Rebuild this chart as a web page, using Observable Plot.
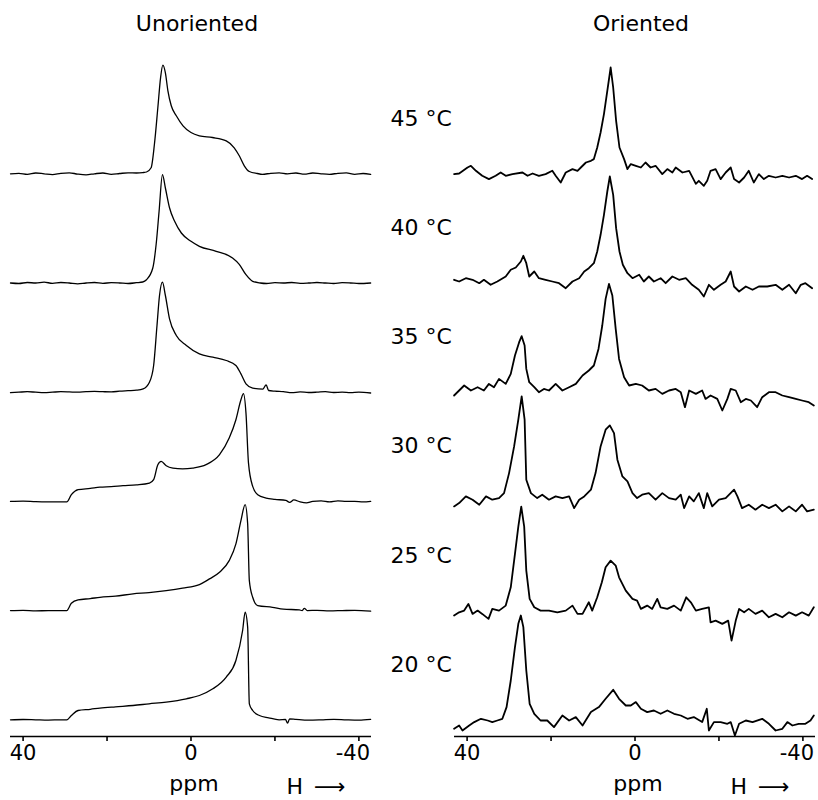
<!DOCTYPE html>
<html><head><meta charset="utf-8">
<script src="https://cdn.jsdelivr.net/npm/d3@7"></script>
<script src="https://cdn.jsdelivr.net/npm/@observablehq/plot@0.6"></script>
<style>body{margin:0;background:#fff}</style>
</head><body><div id="chart"></div>
<script>
const panels = ["Unoriented", "Oriented"];
const temperatures = [45, 40, 35, 30, 25, 20];
const tickValues = [40, 20, 0, -20, -40];
const tickLabels = ["40", "", "0", "", "-40"];

// [ppm, intensity] pairs
const unoriented45 = [[43,0],[41,0.5],[39,-0.5],[37,0.8],[35,0],[33,-0.8],[31,0.5],[29,1],[27,-0.3],[25,-1],[23,0],[21,0.8],[19,-0.5],[17,0.3],[15,1],[13,0.8],[11.5,1.2],[10.6,1.8],[9.5,6],[8.7,30],[7.9,66],[7.25,96],[6.7,108.7],[6.1,101],[5.5,83],[4.7,68],[3.5,58],[1.9,48],[0,41.3],[-2,38],[-5.1,36.3],[-8.4,33],[-10.3,26],[-11.5,18],[-12.7,8],[-13.9,2.3],[-15.8,0.3],[-17,-0.5],[-19,0.5],[-21,1],[-23,0],[-25,0.8],[-27,-0.3],[-29,0.8],[-31,0],[-33,-0.5],[-35,0.5],[-37,1],[-39,-0.5],[-41,0.3],[-42.8,-0.5]];
const unoriented40 = [[43,0],[41,-0.5],[39,0.5],[37,0],[35,0.8],[33,-0.3],[31,0.5],[29,0],[27,-0.8],[25,0],[23,0.5],[21,-0.3],[19,0.3],[17,0],[15,-0.5],[13,0.3],[11.5,1],[10.6,3.3],[9.1,15],[8.3,38.7],[7.6,71.7],[6.8,108.3],[6.1,95],[5.1,75],[3.9,61.7],[2.3,50],[0,41.7],[-2,36.7],[-6,31.7],[-9.9,25],[-11.5,18.7],[-13.1,8.3],[-14.7,1.7],[-16.5,0],[-18,-0.5],[-20,0.3],[-22,0],[-24,0.5],[-26,-0.3],[-28,0],[-30,0.5],[-32,0],[-34,-0.5],[-36,0.3],[-38,0],[-40,-0.5],[-42.8,0]];
const unoriented35 = [[43,-0.5],[41,0],[39,0.5],[37,0],[35,-0.5],[33,0],[31,0.5],[29,0.3],[27,0],[25,0.5],[23,0.8],[21,0.5],[19,0.3],[17,1],[15,1.5],[13,2],[11.4,3.3],[9.9,10],[8.9,26.7],[8.1,66.7],[7.5,96.7],[6.8,110],[6.1,96.7],[5.1,73],[3.5,56.7],[1.1,46.7],[-2,38.3],[-5.2,35],[-8.4,31.7],[-10.7,26.7],[-11.9,18.3],[-13.1,8.3],[-14.7,4],[-17.1,3],[-17.9,7.3],[-18.5,1.7],[-20,1],[-22,0.5],[-24,-0.5],[-26,0.3],[-28,-0.3],[-30,0],[-32,0.5],[-34,-0.3],[-36,0],[-38,-0.5],[-40,0],[-42.8,-0.8]];
const unoriented30 = [[43,0],[40,0.3],[37,-0.3],[34,-0.5],[31,-0.5],[29.6,-0.5],[28.5,6.7],[26.9,11.7],[24,13],[21.7,14.3],[19,14.8],[16.2,15.7],[13,16.5],[9.9,18.3],[8.9,21.7],[7.9,36.7],[7.1,40],[5.9,35.7],[4.3,33.3],[2,32.5],[-0.4,33.3],[-3.6,36.7],[-6.8,46.7],[-9.1,63.3],[-10.7,81.7],[-11.9,101.7],[-12.5,107.7],[-13.1,88.3],[-13.7,38.3],[-14.7,15],[-15.9,6.7],[-17.9,3.3],[-20,2],[-22.6,1],[-23.5,-1],[-24.5,1.5],[-26,-0.5],[-27.5,-1.5],[-29,0],[-31,0.5],[-33,-0.5],[-35,0.5],[-37,0],[-39,0],[-41,-0.5],[-42.8,0]];
const unoriented25 = [[43,0],[40,0.3],[37,-0.3],[34,0],[31,0],[29.6,0],[28.5,7.3],[26.9,10.7],[24,12],[21.7,13.3],[18,14.5],[13.8,16.7],[10,18],[5.9,20],[2,22.5],[-2,26],[-4.4,31.7],[-6.8,38.3],[-9.1,50],[-10.7,66.7],[-11.9,90],[-12.9,106],[-13.5,86.7],[-13.9,30],[-14.7,13.3],[-15.9,5],[-19.4,3.3],[-22,1.5],[-25.8,0.7],[-26.5,0],[-27,2.3],[-27.7,0],[-30,0.3],[-33,-0.3],[-36,0],[-39,0.3],[-42.8,-0.5]];
const unoriented20 = [[43,0],[40,0.3],[37,0],[34,-0.3],[31,0],[29.6,0],[28.5,4.3],[26.9,9.3],[24,10.5],[21.7,11.7],[18,13],[13.8,14.3],[10,16],[5.9,17.7],[1.1,21],[-2,24.3],[-5.2,31],[-8.4,42.7],[-10.7,59.3],[-12.3,89.3],[-12.9,107.7],[-13.5,92.7],[-13.9,16],[-14.7,9.3],[-16.3,4.3],[-18.5,2],[-21,0],[-22.5,0.3],[-23,-3.3],[-23.5,1],[-25,0.5],[-28,-0.3],[-31,0],[-34,0.5],[-37,0],[-40,-0.3],[-42.8,0.5]];

const oriented45 = [[43.1,-0.3],[41.9,0.3],[39.9,6.3],[39.1,8],[37.9,3],[36.4,-2],[34.8,-5.3],[33.2,-2],[32,1.3],[30.8,-2],[29.2,-0.3],[26.8,1.3],[25.6,-2],[24.4,0.3],[22.9,-2],[21.3,-0.3],[19.7,3],[18.9,-2],[17.7,-8.7],[16.5,1.3],[14.9,4.7],[13.7,3],[12.9,6.3],[11.7,11.3],[10.5,13],[9.8,14.7],[9,26.3],[8.2,41.3],[7.4,59.7],[6.6,83],[5.8,106.3],[5.2,86.3],[4.5,53],[3.7,26.3],[2.6,14.7],[1.8,4.7],[1,9.7],[-0.2,8],[-1.4,6.3],[-2.5,11.3],[-3.7,6.3],[-4.9,8],[-6.5,-0.3],[-7.7,4.7],[-8.9,1.3],[-9.7,6.3],[-11.3,1.3],[-12.9,3],[-14.5,-10],[-15.2,-7],[-16.4,-12],[-17.2,-7],[-18,3],[-19.2,4.7],[-20.4,-5.3],[-21.6,1.3],[-22.8,6.3],[-23.6,-5.3],[-24.8,-8.7],[-26,-3.7],[-27.1,3],[-28.3,-8.7],[-29.5,-0.3],[-30.7,-5.3],[-31.9,-2],[-33.5,-3.7],[-35.1,-2],[-36.7,-3.7],[-38.3,-2],[-39.8,-5.3],[-41,-2],[-42.2,-5.3]];
const oriented40 = [[43.1,3.2],[41.9,1.5],[40.3,4.8],[38.7,3.2],[37.1,-0.2],[36,3.2],[34.4,-1.8],[32.8,1.5],[30.8,6.5],[29.6,13.2],[28.4,15.5],[27.2,21.5],[26.6,27.2],[25.9,19.8],[25.2,6.5],[24,11.5],[22.9,4.8],[21.3,3.2],[19.7,1.5],[18.1,-0.2],[16.5,-5.2],[14.9,1.5],[13.3,4.8],[12.1,11.5],[11,14.8],[9.8,19.8],[9,31.5],[8.2,48.2],[7.4,68.2],[6.6,91.5],[6,106.5],[5.2,88.2],[4.5,54.8],[3.7,31.5],[2.9,18.2],[1.8,9.8],[0.6,4.8],[-1,8.2],[-2.1,1.5],[-3.3,6.5],[-4.5,1.5],[-6.1,4.8],[-7.3,-0.2],[-8.9,6.5],[-10.5,3.2],[-12.1,4.8],[-13.6,-1.8],[-15.2,-6.8],[-16.4,-13.5],[-17.6,-1.8],[-18.8,-6.8],[-20.4,-1.8],[-21.6,1.5],[-22.8,11.5],[-23.6,-3.5],[-24.8,-8.5],[-26.4,-3.5],[-28,-6.8],[-29.5,-3.5],[-31.5,-3.5],[-33.5,-1.8],[-35.1,-6.8],[-36.7,-1.8],[-38.3,-10.2],[-39.5,-1.8],[-40.6,-0.2],[-42.2,-5.2]];
const oriented35 = [[43.1,-3.3],[41.9,1.7],[40.7,6.7],[39.1,1.7],[37.5,5],[36,1.7],[34.8,8.3],[33.6,5],[32.4,13.3],[30.8,8.3],[29.6,18.3],[28.6,36.7],[27.6,50],[27,56],[26.3,46.7],[25.9,23.3],[25.2,10],[24,5],[22.9,0],[21.7,3.3],[20.5,1.7],[18.9,8.3],[17.3,1.7],[15.7,5],[14.1,8.3],[12.5,16.7],[11,21.7],[9.8,26.7],[8.7,43.3],[7.8,66.7],[7,93.3],[6.2,108.3],[5.4,96.7],[4.6,63.3],[3.8,33.3],[2.6,15],[1.4,6.7],[-0.2,8.3],[-1.7,6.7],[-3.3,1.7],[-4.9,3.3],[-6.5,-1.7],[-8.1,1.7],[-9.7,3.3],[-10.9,0],[-11.9,-15],[-12.9,1.7],[-14.5,-1.7],[-16,1.7],[-16.8,-6.7],[-18,-3.3],[-19.6,-6.7],[-20.8,-18.3],[-22,-6.7],[-22.8,3.3],[-24,1.7],[-25.2,-10],[-26.4,-6.7],[-27.6,-8.3],[-29.1,-15],[-30.3,-5],[-31.9,0],[-33.5,0],[-35.1,-3.3],[-36.7,-5],[-38.3,-6.7],[-39.8,-8.3],[-41.4,-10],[-42.6,-13.3]];
const oriented30 = [[43.1,-5],[41.9,-1.7],[40.3,5],[38.7,1.7],[37.1,-3.3],[35.5,5],[34,1.7],[32.4,3.3],[31.2,8.3],[30,28.3],[28.8,55],[27.8,81.7],[27,105],[26.3,81.7],[25.9,21.7],[24.8,8.3],[23.3,3.3],[22.1,6.7],[20.5,1.7],[18.9,5],[17.3,3.3],[15.7,5],[14.5,-6.7],[13.3,1.7],[12.1,5],[10.5,11.7],[9.4,28.3],[8.2,55],[7,71.7],[6,76],[5,68.3],[4.2,41.7],[3,25],[1.8,20],[0.6,8.3],[-0.5,3.3],[-1.7,6.7],[-3.3,8.3],[-4.9,1.7],[-6.5,8.3],[-8.1,3.3],[-9.7,1.7],[-10.9,6.7],[-11.7,-6.7],[-12.9,5],[-14,0],[-15.2,8.3],[-16.4,-6.7],[-17.2,8.3],[-18.4,-5],[-20,1.7],[-21.6,3.3],[-23.6,11.7],[-24.4,5],[-25.5,-6.7],[-27.1,-3.3],[-28.7,-8.3],[-30.3,-3.3],[-31.9,-6.7],[-33.5,-3.3],[-35.1,-10],[-36.7,-5],[-38.3,-10],[-39.8,-3.3],[-41,-10],[-42.6,-8.3]];
const oriented25 = [[43.1,-5],[41.9,-1.7],[40.7,0],[39.7,6.7],[38.7,-3.3],[37.5,0],[36.4,-3.3],[34.9,-8.3],[34,1.7],[32.4,0],[30.8,5],[29.6,23.3],[28.6,56.7],[27.8,84],[27.1,104],[26.4,84],[25.9,40],[25.1,11.7],[24,3.3],[22.5,0],[20.5,0],[18.5,-1.7],[16.5,0],[14.9,5],[13.7,-3.3],[12.5,-3.3],[11,8.3],[10.2,0],[9,13.3],[7.9,28.3],[7,43.3],[5.8,50],[4.6,45],[3.8,33.3],[2.2,20],[0.6,11.7],[-0.5,10],[-1.4,1.7],[-2.9,5],[-4.1,1.7],[-5.3,11.7],[-6.1,3.3],[-7.7,1.7],[-9.3,5],[-10.9,0],[-12.2,13.3],[-13.3,8.3],[-14.5,0],[-16,1.7],[-17.6,3.3],[-18,-11.7],[-19.2,-10],[-20.8,-13.3],[-22.2,-10],[-23,-30],[-24,-10],[-24.8,1.7],[-26,-1.7],[-27.1,1.7],[-28.7,-3.3],[-30.3,0],[-31.9,-6.7],[-33.5,-3.3],[-35.1,-6.7],[-36.7,-1.7],[-38.3,-5],[-39.8,-1.7],[-41.4,-5],[-42.6,3.3]];
const oriented20 = [[43.1,-9],[41.9,-5.7],[41.1,-10.7],[39.5,-5.7],[38.3,-2.3],[36.7,1],[35.1,-0.7],[34,-2.3],[32.8,-0.7],[31.6,1],[30.6,12.7],[29.6,39.3],[28.6,72.7],[27.8,96],[27.2,104.3],[26.6,92.7],[25.9,49.3],[25.1,16],[24,6],[22.5,-0.7],[20.9,-0.7],[19.3,-7.3],[17.3,4.3],[15.7,-0.7],[14.1,2.7],[12.5,-5.7],[10.5,7.7],[8.6,12.7],[7,21],[5.2,30],[3.8,21],[2.2,14.3],[1,14.3],[-0.2,17.7],[-1.4,11],[-2.9,7.7],[-4.5,9.3],[-6.1,6],[-7.7,9.3],[-9.3,6],[-10.9,4.3],[-12.5,1],[-14,2.7],[-16,-2.3],[-17.1,11],[-17.6,-10.7],[-18.8,-2.3],[-20.4,-2.3],[-22,-4],[-22.8,-2.3],[-23.8,-15.7],[-24.8,-4],[-26.4,-0.7],[-28,-2.3],[-30.3,1],[-31.9,-4],[-33.5,-10.7],[-35.1,-9],[-36.3,-2.3],[-37.5,-5.7],[-39,-4],[-40.6,-4],[-41.8,-0.7],[-42.6,4.3]];

const unoriented = [unoriented45, unoriented40, unoriented35, unoriented30, unoriented25, unoriented20];
const oriented = [oriented45, oriented40, oriented35, oriented30, oriented25, oriented20];

const stackStep = 109.2, stackBase = 16.7;
const offsetOf = i => stackBase + (temperatures.length - 1 - i) * stackStep;
const rows = [];
panels.forEach((p, pi) => (pi ? oriented : unoriented).forEach((trace, i) => {
  trace.forEach(([ppm, v]) => rows.push({panel: p, temp: temperatures[i], ppm, y: offsetOf(i) + v}));
}));
const tempRows = temperatures.map((t, i) => ({panel: "Oriented", label: `${t} °C`, y: offsetOf(i) + 55}));
const labelOf = new Map(tickValues.map((v, i) => [v, tickLabels[i]]));
const lastTick = tickValues[tickValues.length - 1];

const chart = Plot.plot({
  width: 818, height: 800,
  marginLeft: 10, marginRight: 3, marginTop: 50, marginBottom: 64,
  style: {fontFamily: "DejaVu Sans", background: "#fff", color: "#000", overflow: "visible"},
  fx: {domain: panels, paddingInner: 0.187, paddingOuter: 0, axis: null, round: false},
  x: {domain: [43, -43]},
  y: {domain: [0, 686], axis: null},
  marks: [
    Plot.ruleY([0], {stroke: "#000", strokeWidth: 1.6}),
    Plot.axisX({ticks: tickValues, tickFormat: d => d === lastTick ? "" : labelOf.get(d), tickSize: 5, tickPadding: 4, fontSize: 21, label: null, stroke: "#000", strokeWidth: 1.6}),
    Plot.axisX({ticks: [lastTick], tickFormat: d => labelOf.get(d), tickSize: 0, tickPadding: 9, fontSize: 21, label: null, dx: -6}),
    Plot.line(rows.filter(d => d.panel === "Unoriented"), {x: "ppm", y: "y", z: "temp", fx: "panel", stroke: "#000", strokeWidth: 1.3, curve: "monotone-x"}),
    Plot.line(rows.filter(d => d.panel === "Oriented"), {x: "ppm", y: "y", z: "temp", fx: "panel", stroke: "#000", strokeWidth: 1.8}),
    Plot.text(panels, {fx: d => d, text: d => d, frameAnchor: "top", dy: -35, dx: 6, fontSize: 22}),
    Plot.text(tempRows, {fx: "panel", y: "y", text: "label", frameAnchor: "left", textAnchor: "start", dx: -64, fontSize: 22}),
    Plot.text(panels, {fx: d => d, text: () => "ppm", frameAnchor: "bottom", dy: 54, dx: 3, fontSize: 22}),
    Plot.text(panels, {fx: d => d, text: () => "H\u2002\u27F6", frameAnchor: "bottom-right", textAnchor: "end", dx: -26, dy: 57, fontSize: 22})
  ]
});
document.getElementById("chart").appendChild(chart);
</script>
</body></html>
